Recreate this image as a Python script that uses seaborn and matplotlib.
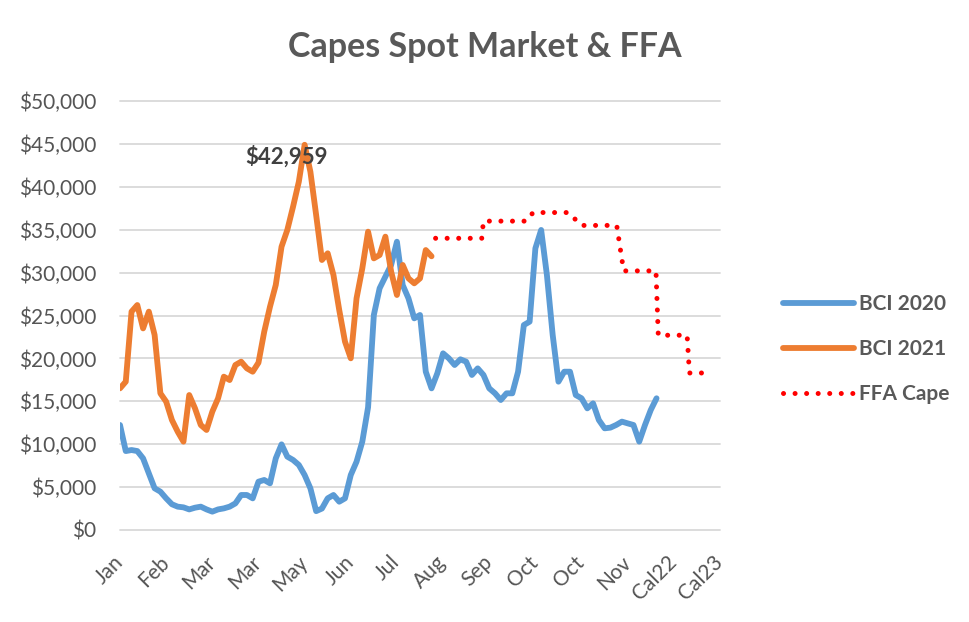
import matplotlib
matplotlib.use("Agg")
import matplotlib.pyplot as plt
import seaborn as sns
import numpy as np
from matplotlib.ticker import FuncFormatter

# category labels along the x axis, one every 8 data points
month_labels = ["Jan", "Feb", "Mar", "Mar", "May", "Jun", "Jul", "Aug",
                "Sep", "Oct", "Oct", "Nov", "Cal22", "Cal23"]
points_per_label = 8

bci_2020 = [12240, 9200, 9320, 9200, 8350, 6600, 4860, 4470, 3690, 3000,
            2720, 2640, 2400, 2600, 2720, 2400, 2140, 2400, 2520, 2720,
            3100, 4080, 4080, 3690, 5630, 5830, 5440, 8350, 9980, 8550,
            8160, 7580, 6410, 4860, 2200, 2500, 3690, 4080, 3300, 3690,
            6410, 7960, 10300, 14300, 25060, 28170, 29530, 30890, 33600, 28550,
            27000, 24670, 25060, 18450, 16510, 18260, 20590, 20010, 19230, 19890,
            19620, 18070, 18840, 18070, 16510, 15930, 15150, 15930, 15930, 18450,
            23890, 24280, 32830, 34970, 29700, 22730, 17290, 18450, 18450, 15730,
            15350, 14180, 14760, 12820, 11850, 11930, 12240, 12630, 12430, 12240,
            10300, 12240, 13990, 15350]

bci_2021 = [16510, 17290, 25450, 26220, 23500, 25450, 22730, 15930, 14960, 12820,
            11460, 10300, 15730, 14180, 12240, 11660, 13790, 15350, 17870, 17480,
            19230, 19620, 18840, 18450, 19500, 23110, 26030, 28560, 33020, 34970,
            37690, 40600, 44900, 41760, 36700, 31470, 32250, 29720, 25640, 21950,
            20010, 27000, 30500, 34770, 31660, 32050, 34190, 30110, 27390, 30890,
            29330, 28750, 29330, 32630, 31900]

# forward curve, x in data-point units
ffa_x = [54.7, 62.7, 63.0, 70.4, 71.6, 77.7, 80.0, 86.1, 87.3, 92.9,
         93.3, 98.3, 98.7, 102.4]
ffa_cape = [34000, 34000, 36000, 36000, 37000, 37000, 35500, 35500, 30200, 30200,
            22700, 22700, 18300, 18300]

peak_label = "$42,959"

sns.set_theme(style="white")
plt.rcParams['font.family'] = ['Lato', 'DejaVu Sans']

grey = '#555555'
fig = plt.figure(figsize=(9.7, 6.22), dpi=100)
ax = fig.add_axes([120 / 970, 1 - 530 / 622, 600 / 970, 429 / 622])

sns.lineplot(x=np.arange(len(bci_2020)), y=bci_2020, ax=ax, color='#5B9BD5',
             lw=4.2, label="BCI 2020", estimator=None,
             solid_capstyle='round', solid_joinstyle='round')
sns.lineplot(x=np.arange(len(bci_2021)), y=bci_2021, ax=ax, color='#ED7D31',
             lw=4.2, label="BCI 2021", estimator=None,
             solid_capstyle='round', solid_joinstyle='round')
sns.lineplot(x=ffa_x, y=ffa_cape, ax=ax, color='#FF0000', lw=3.6,
             label="FFA Cape", estimator=None,
             linestyle=(0, (0.01, 2.3)), dash_capstyle='round')

ax.text(28.9, 43500, peak_label, ha='center', va='center', fontsize=16,
        fontweight='bold', color='#404040')

ax.set_xlim(0, points_per_label * (len(month_labels) - 1))
ax.set_ylim(0, 50000)
ax.set_yticks(np.arange(0, 50001, 5000))
ax.yaxis.set_major_formatter(FuncFormatter(lambda v, p: f"${v:,.0f}"))
ax.set_xticks(np.arange(len(month_labels)) * points_per_label)
ax.set_xticklabels(month_labels, rotation=45, ha='right', va='center',
                   rotation_mode='anchor')
ax.tick_params(axis='y', length=0, pad=17, labelsize=15, labelcolor=grey)
ax.tick_params(axis='x', length=0, pad=21, labelsize=15, labelcolor=grey)
ax.set_xlabel("")
ax.set_ylabel("")

ax.yaxis.grid(True, color='#D9D9D9', lw=1.3)
ax.set_axisbelow(True)
for gl in ax.get_ygridlines():
    gl.set_clip_on(False)
for s in ax.spines.values():
    s.set_visible(False)

fig.text(0.5, 1 - 47 / 622, "Capes Spot Market & FFA", ha='center', va='center',
         fontsize=24.5, fontweight='bold', color='#595959')

handles, labels = ax.get_legend_handles_labels()
if ax.get_legend() is not None:
    ax.get_legend().remove()
leg = fig.legend(handles, labels, loc='center left',
                 bbox_to_anchor=(764 / 970, 1 - 349 / 622), frameon=False,
                 handlelength=3.4, handletextpad=0.25, labelspacing=1.2,
                 prop={'weight': 'bold', 'size': 15})
for t in leg.get_texts():
    t.set_color('#595959')

plt.savefig('out.png', dpi=100)
plt.close()
